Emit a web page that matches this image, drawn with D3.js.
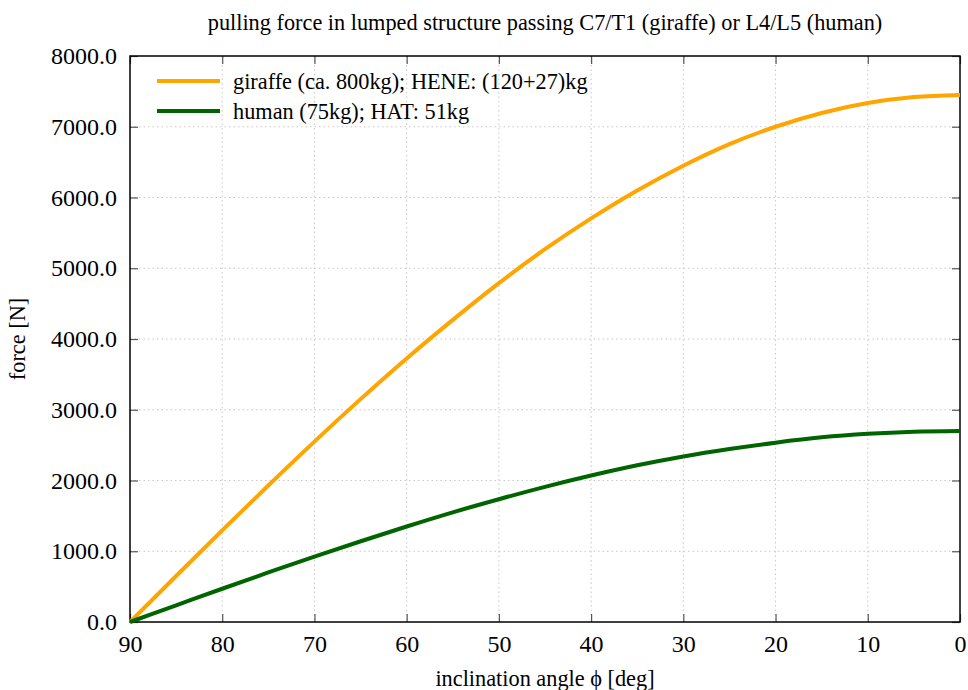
<!DOCTYPE html>
<html>
<head>
<meta charset="utf-8">
<script src="https://cdn.jsdelivr.net/npm/d3@7"></script>
<style>
  body { margin: 0; background: #fff; }
  text { font-family: "Liberation Serif", "Times New Roman", serif; fill: #000; }
</style>
</head>
<body>
<svg id="chart" width="968" height="690"></svg>
<script>
// inclination angle (deg) and force (N)
var angles = [90, 85, 80, 75, 70, 65, 60, 55, 50, 45, 40, 35, 30, 25, 20, 15, 10, 5, 0];
var giraffeForce = [0, 650, 1295, 1930, 2550, 3150, 3725, 4270, 4790, 5270, 5705, 6100, 6450, 6755, 7000, 7195, 7335, 7420, 7450];
var humanForce = [0, 235, 470, 700, 925, 1140, 1350, 1550, 1735, 1910, 2070, 2215, 2340, 2445, 2535, 2610, 2660, 2690, 2700];
var xTicks = [90, 80, 70, 60, 50, 40, 30, 20, 10, 0];
var yTicks = [0, 1000, 2000, 3000, 4000, 5000, 6000, 7000, 8000];
var seriesNames = ["giraffe (ca. 800kg); HENE: (120+27)kg", "human (75kg); HAT: 51kg"];
var seriesColors = ["#ffa500", "#006400"];

var margin = { top: 56, right: 8, bottom: 68, left: 130 },
	width = 968 - margin.left - margin.right,
	height = 690 - margin.top - margin.bottom;

var svg = d3.select("#chart");
var g = svg.append("g")
	.attr("transform", "translate(" + margin.left + "," + margin.top + ")");

var x = d3.scaleLinear().domain([90, 0]).range([0, width]);
var y = d3.scaleLinear().domain([0, 8000]).range([height, 0]);

// grid
g.append("g").selectAll("line.gx")
	.data(xTicks.slice(1, -1))
	.enter().append("line")
	.attr("x1", function (d) { return x(d); })
	.attr("x2", function (d) { return x(d); })
	.attr("y1", 0).attr("y2", height)
	.attr("stroke", "#c8c8c8").attr("stroke-width", 1)
	.attr("stroke-dasharray", "1.5,3");
g.append("g").selectAll("line.gy")
	.data(yTicks.slice(1, -1))
	.enter().append("line")
	.attr("x1", 0).attr("x2", width)
	.attr("y1", function (d) { return y(d); })
	.attr("y2", function (d) { return y(d); })
	.attr("stroke", "#c8c8c8").attr("stroke-width", 1)
	.attr("stroke-dasharray", "1.5,3");

// axes with inward ticks (mirrored on top / right)
var fmt = d3.format(".1f");
var xAxis = g.append("g")
	.attr("transform", "translate(0," + height + ")")
	.call(d3.axisBottom(x).tickValues(xTicks).tickSizeInner(-8).tickSizeOuter(0).tickPadding(12));
var xTop = g.append("g")
	.call(d3.axisTop(x).tickValues(xTicks).tickSizeInner(-8).tickSizeOuter(0).tickFormat(""));
var yAxis = g.append("g")
	.call(d3.axisLeft(y).tickValues(yTicks).tickSizeInner(-8).tickSizeOuter(0).tickPadding(13).tickFormat(fmt));
var yRight = g.append("g")
	.attr("transform", "translate(" + width + ",0)")
	.call(d3.axisRight(y).tickValues(yTicks).tickSizeInner(-8).tickSizeOuter(0).tickFormat(""));

[xAxis, xTop, yAxis, yRight].forEach(function (a) {
	a.select(".domain").remove();
	a.selectAll(".tick line").attr("stroke", "#555").attr("stroke-width", 1.2);
	a.selectAll("text").style("font-size", "24px")
		.style("font-family", "'Liberation Serif', serif");
});
xAxis.selectAll("text").attr("dy", "0.75em");

// frame
g.append("rect")
	.attr("x", 0).attr("y", 0)
	.attr("width", width).attr("height", height)
	.attr("fill", "none").attr("stroke", "#000").attr("stroke-width", 1.5);

// lines
var line = d3.line()
	.x(function (d) { return x(d[0]); })
	.y(function (d) { return y(d[1]); })
	.curve(d3.curveMonotoneX);

[giraffeForce, humanForce].forEach(function (vals, i) {
	g.append("path")
		.datum(angles.map(function (a, j) { return [a, vals[j]]; }))
		.attr("d", line)
		.attr("fill", "none")
		.attr("stroke", seriesColors[i])
		.attr("stroke-width", 4);
});

// legend
var legend = g.append("g").attr("transform", "translate(27,25)");
seriesNames.forEach(function (name, i) {
	legend.append("line")
		.attr("x1", 0).attr("x2", 63)
		.attr("y1", i * 30).attr("y2", i * 30)
		.attr("stroke", seriesColors[i]).attr("stroke-width", 4);
	legend.append("text")
		.attr("x", 76).attr("y", i * 30)
		.attr("dy", "0.35em")
		.style("font-size", "22.3px")
		.text(name);
});

// titles
svg.append("text")
	.attr("x", margin.left + width / 2).attr("y", 30)
	.attr("text-anchor", "middle")
	.style("font-size", "22.3px")
	.text("pulling force in lumped structure passing C7/T1 (giraffe) or L4/L5 (human)");
svg.append("text")
	.attr("x", margin.left + width / 2).attr("y", 686)
	.attr("text-anchor", "middle")
	.style("font-size", "22.3px")
	.text("inclination angle ϕ [deg]");
svg.append("text")
	.attr("transform", "translate(25," + (margin.top + height / 2) + ") rotate(-90)")
	.attr("text-anchor", "middle")
	.style("font-size", "22.3px")
	.text("force [N]");
</script>
</body>
</html>
